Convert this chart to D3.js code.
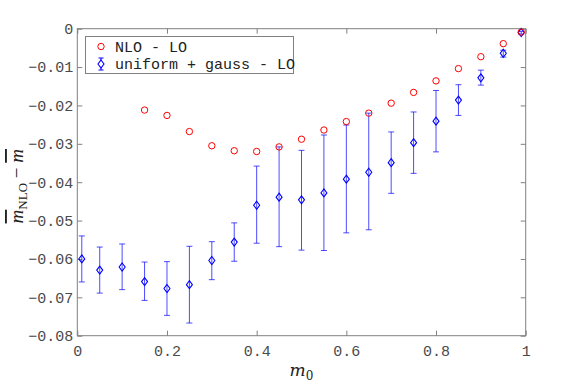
<!DOCTYPE html>
<html>
<head>
<meta charset="utf-8">
<script src="https://cdn.jsdelivr.net/npm/d3@7"></script>
<style>
  body { margin: 0; background: #fff; }
  svg { display: block; }
</style>
</head>
<body>
<svg id="chart" width="581" height="382"></svg>
<script>
// m0 values
const m0_red = [0.15, 0.2, 0.25, 0.3, 0.35, 0.4, 0.45, 0.5, 0.55, 0.6, 0.65, 0.7, 0.75, 0.8, 0.85, 0.9, 0.95, 0.99];
const nlo_lo = [-0.0212, -0.0226, -0.0268, -0.0305, -0.0318, -0.032, -0.0308, -0.0288, -0.0264, -0.0242, -0.022, -0.0194, -0.0166, -0.0136, -0.0104, -0.0073, -0.0039, -0.0009];

const m0_blue = [0.01, 0.05, 0.1, 0.15, 0.2, 0.25, 0.3, 0.35, 0.4, 0.45, 0.5, 0.55, 0.6, 0.65, 0.7, 0.75, 0.8, 0.85, 0.9, 0.95, 0.99];
const ug_lo = [-0.06, -0.0629, -0.0621, -0.0659, -0.0677, -0.0667, -0.0604, -0.0556, -0.046, -0.0439, -0.0446, -0.0428, -0.0392, -0.0374, -0.0349, -0.0297, -0.0241, -0.0186, -0.0128, -0.0064, -0.001];
const ug_hi = [-0.054, -0.0569, -0.0561, -0.0608, -0.0607, -0.0567, -0.0555, -0.0506, -0.0358, -0.0308, -0.0317, -0.0277, -0.0251, -0.022, -0.0269, -0.0217, -0.0161, -0.0146, -0.0108, -0.0056, -0.0007];
const ug_lo_err = [-0.066, -0.0689, -0.068, -0.0708, -0.0747, -0.0767, -0.0654, -0.0606, -0.0559, -0.0568, -0.0577, -0.0578, -0.0532, -0.0524, -0.0429, -0.0377, -0.0321, -0.0226, -0.0147, -0.0074, -0.0014];

const xTicks = [0, 0.2, 0.4, 0.6, 0.8, 1];
const yTicks = [0, -0.01, -0.02, -0.03, -0.04, -0.05, -0.06, -0.07, -0.08];

const svg = d3.select("#chart");
const mLeft = 77.3, mRight = 525.7, mTop = 28.7, mBottom = 335.7;
const axisColor = "#808080";
const textColor = "#4a4a4a";
const monoFont = "'Liberation Mono', 'DejaVu Sans Mono', monospace";

const x = d3.scaleLinear().domain([0, 1]).range([mLeft, mRight]);
const y = d3.scaleLinear().domain([-0.08, 0]).range([mBottom, mTop]);

// axes box
svg.append("rect")
  .attr("x", mLeft).attr("y", mTop)
  .attr("width", mRight - mLeft).attr("height", mBottom - mTop)
  .attr("fill", "none").attr("stroke", axisColor).attr("stroke-width", 1);

const xAxis = d3.axisBottom(x).tickValues(xTicks).tickSizeInner(-5).tickSizeOuter(0)
  .tickFormat(d => d === 0 || d === 1 ? d3.format("d")(d) : d3.format(".1f")(d));
const gx = svg.append("g").attr("transform", `translate(0,${mBottom})`).call(xAxis);
gx.select(".domain").remove();
gx.selectAll("line").attr("stroke", axisColor);
gx.selectAll("text").attr("dy", null).attr("y", 20)
  .style("font-family", monoFont).style("font-size", "15px").attr("fill", textColor);

const xTop = d3.axisTop(x).tickValues(xTicks).tickSizeInner(-5).tickSizeOuter(0).tickFormat("");
const gxt = svg.append("g").attr("transform", `translate(0,${mTop})`).call(xTop);
gxt.select(".domain").remove();
gxt.selectAll("line").attr("stroke", axisColor);

const yAxis = d3.axisLeft(y).tickValues(yTicks).tickSizeInner(-5).tickSizeOuter(0)
  .tickFormat(d => d === 0 ? "0" : d3.format(".2f")(d).replace("-", "\u2212"));
const gy = svg.append("g").attr("transform", `translate(${mLeft},0)`).call(yAxis);
gy.select(".domain").remove();
gy.selectAll("line").attr("stroke", axisColor);
gy.selectAll("text").attr("x", -4)
  .style("font-family", monoFont).style("font-size", "15px").attr("fill", textColor);

const yRight = d3.axisRight(y).tickValues(yTicks).tickSizeInner(-5).tickSizeOuter(0).tickFormat("");
const gyr = svg.append("g").attr("transform", `translate(${mRight},0)`).call(yRight);
gyr.select(".domain").remove();
gyr.selectAll("line").attr("stroke", axisColor);

// axis labels
svg.append("text")
  .attr("x", (mLeft + mRight) / 2).attr("y", 376)
  .attr("text-anchor", "middle")
  .style("font-family", "'DejaVu Serif', 'Liberation Serif', serif")
  .style("font-size", "17px").style("font-style", "italic").attr("fill", "#222")
  .html('m<tspan font-style="normal" font-size="12px" dy="4">0</tspan>');

const ylab = svg.append("text")
  .attr("transform", `translate(23,${(mTop + mBottom) / 2 + 4}) rotate(-90)`)
  .attr("text-anchor", "middle")
  .style("font-family", "'Liberation Serif', 'DejaVu Serif', serif")
  .style("font-size", "19px").attr("fill", "#222");
ylab.append("tspan").attr("font-style", "italic").attr("text-decoration", "overline").text("m");
ylab.append("tspan").attr("font-size", "13px").attr("dy", 4).text("NLO");
ylab.append("tspan").attr("dy", -4).text(" \u2212 ");
ylab.append("tspan").attr("font-style", "italic").attr("text-decoration", "overline").text("m");

// blue error bars
const blue = "#0000ff";
const blueData = m0_blue.map((m, i) => ({ m, v: ug_lo[i], hi: ug_hi[i], lo: ug_lo_err[i] }));
const eb = svg.append("g");
eb.selectAll("line.v").data(blueData).join("line")
  .attr("x1", d => x(d.m)).attr("x2", d => x(d.m))
  .attr("y1", d => y(d.hi)).attr("y2", d => y(d.lo))
  .attr("stroke", blue).attr("stroke-opacity", 0.7).attr("stroke-width", 1);
eb.selectAll("line.cap1").data(blueData).join("line")
  .attr("x1", d => x(d.m) - 3).attr("x2", d => x(d.m) + 3)
  .attr("y1", d => y(d.hi)).attr("y2", d => y(d.hi))
  .attr("stroke", blue).attr("stroke-opacity", 0.7);
eb.selectAll("line.cap2").data(blueData).join("line")
  .attr("x1", d => x(d.m) - 3).attr("x2", d => x(d.m) + 3)
  .attr("y1", d => y(d.lo)).attr("y2", d => y(d.lo))
  .attr("stroke", blue).attr("stroke-opacity", 0.7);

const diamond = "M0,-4L3,0L0,4L-3,0Z";
eb.selectAll("path").data(blueData).join("path")
  .attr("d", diamond)
  .attr("transform", d => `translate(${x(d.m)},${y(d.v)})`)
  .attr("fill", "none").attr("stroke", blue).attr("stroke-width", 1.1);

// red circles
svg.append("g").selectAll("circle").data(m0_red.map((m, i) => ({ m, v: nlo_lo[i] }))).join("circle")
  .attr("cx", d => x(d.m)).attr("cy", d => y(d.v)).attr("r", 3.2)
  .attr("fill", "none").attr("stroke", "#ff0000").attr("stroke-width", 1);

// legend
const lg = svg.append("g");
lg.append("rect").attr("x", 85.5).attr("y", 36.5).attr("width", 208).attr("height", 37)
  .attr("fill", "#fff").attr("stroke", axisColor);
lg.append("circle").attr("cx", 101).attr("cy", 46.5).attr("r", 3.2)
  .attr("fill", "none").attr("stroke", "#ff0000");
lg.append("line").attr("x1", 101).attr("x2", 101).attr("y1", 58).attr("y2", 70).attr("stroke", blue);
lg.append("line").attr("x1", 98.5).attr("x2", 103.5).attr("y1", 58).attr("y2", 58).attr("stroke", blue);
lg.append("line").attr("x1", 98.5).attr("x2", 103.5).attr("y1", 70).attr("y2", 70).attr("stroke", blue);
lg.append("path").attr("d", diamond).attr("transform", "translate(101,64)")
  .attr("fill", "#fff").attr("stroke", blue).attr("stroke-width", 1.1);
lg.selectAll("text.l").data(["NLO - LO", "uniform + gauss - LO"]).join("text")
  .attr("x", 115).attr("y", (d, i) => 51.5 + i * 17.5)
  .style("font-family", monoFont).style("font-size", "15px").attr("fill", "#222")
  .text(d => d);
</script>
</body>
</html>
